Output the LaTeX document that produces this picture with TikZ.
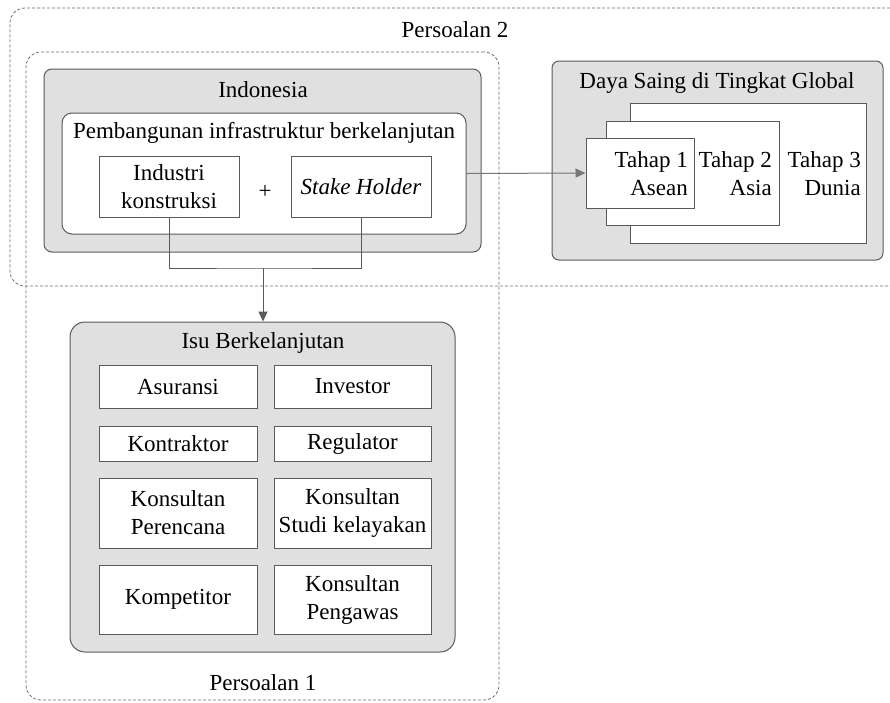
\documentclass[tikz,border=0pt]{standalone}
\usepackage{fontspec}
\setmainfont{Liberation Serif}
\usetikzlibrary{fit,arrows.meta}
\definecolor{boxgray}{RGB}{224,224,224}
\definecolor{edge}{RGB}{90,90,90}
\definecolor{arrowgray}{RGB}{120,120,120}
\definecolor{dashgray}{RGB}{110,110,110}
\begin{document}
\begin{tikzpicture}[x=1pt,y=-1pt,
  every node/.style={font=\fontsize{23}{28}\selectfont, inner sep=0pt},
  dashbox/.style={draw=dashgray, line width=0.8pt, dash pattern=on 3pt off 2pt, rounded corners=15pt},
  greybox/.style={draw=edge, line width=1pt, fill=boxgray},
  whitebox/.style={draw=edge, line width=1pt, fill=white},
  cell/.style={draw=edge, line width=1pt, fill=white, align=center},
  conn/.style={draw=edge, line width=1pt},
  tip/.style={-{Triangle[length=10pt,width=9pt]}}
]
\useasboundingbox (0,0) rectangle (890,702);
\fill[white] (0,0) rectangle (890,702);

% dashed outer regions
\node[dashbox, fit={(10,8) (905,286)}] (p2) {};
\node[dashbox, fit={(26,52) (499,700)}] (p1) {};
\node (p2lbl) at (455,30) {Persoalan 2};
\node (p1lbl) at (263,683) {Persoalan 1};

% Indonesia
\node[greybox, rounded corners=8pt, fit={(44,69) (481,252)}] (indo) {};
\node (indolbl) at (263,90) {Indonesia};
\node[whitebox, rounded corners=10pt, fit={(62,113) (466,234)}] (wb) {};
\node (wblbl) at (264,133) {Pembangunan infrastruktur berkelanjutan};
\node[cell, minimum width=140pt, minimum height=61pt] (ind) at (169,186.5) {Industri\\konstruksi};
\node[cell, minimum width=140pt, minimum height=61pt] (sh) at (361,186.5) {\itshape Stake Holder};
\node (plus) at (265,192) {+};

% Daya saing
\node[greybox, rounded corners=7pt, fit={(552,61) (883,260)}] (ds) {};
\node (dslbl) at (717,83) {Daya Saing di Tingkat Global};
\node[whitebox, fit={(630,103) (866,243)}] (t3) {};
\node[whitebox, fit={(606,121) (779,225)}] (t2) {};
\node[whitebox, fit={(586,138) (694,208)}] (t1) {};
\node[anchor=east, align=right] (t1lbl) at (688,173.5) {Tahap 1\\Asean};
\node[anchor=east, align=right] (t2lbl) at (772,173.5) {Tahap 2\\Asia};
\node[anchor=east, align=right] (t3lbl) at (861,173.5) {Tahap 3\\Dunia};

% Isu berkelanjutan
\node[greybox, rounded corners=15pt, fit={(70,322) (455,652)}] (isu) {};
\node (isulbl) at (263,343) {Isu Berkelanjutan};
\node[cell, minimum width=158pt, minimum height=43pt] (c11) at (178,386.5) {Asuransi};
\node[cell, minimum width=157pt, minimum height=43pt] (c12) at (352.5,386.5) {Investor};
\node[cell, minimum width=158pt, minimum height=35pt] (c21) at (178,443.5) {Kontraktor};
\node[cell, minimum width=157pt, minimum height=35pt] (c22) at (352.5,443.5) {Regulator};
\node[cell, minimum width=158pt, minimum height=70pt] (c31) at (178,513) {Konsultan\\Perencana};
\node[cell, minimum width=157pt, minimum height=70pt] (c32) at (352.5,513) {Konsultan\\Studi kelayakan};
\node[cell, minimum width=158pt, minimum height=69pt] (c41) at (178,599.5) {Kompetitor};
\node[cell, minimum width=157pt, minimum height=69pt] (c42) at (352.5,599.5) {Konsultan\\Pengawas};

% connectors
\coordinate (j) at (263,268);
\draw[conn] (ind.south) |- (j) -| (sh.south);
\draw[conn, tip, fill=edge] (j) -- (isu.north -| j);
\draw[draw=arrowgray, line width=1pt, -{Triangle[length=10pt,width=9pt]}, fill=arrowgray] (wb.east) -- (t1.west);
\end{tikzpicture}
\end{document}
